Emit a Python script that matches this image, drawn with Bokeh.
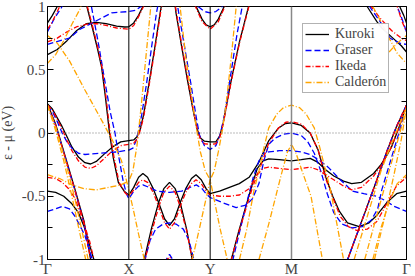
from bokeh.plotting import figure
from bokeh.models import Range1d, FixedTicker, LinearAxis, Span, Legend, LegendItem
from bokeh.embed import file_html
from bokeh.resources import INLINE

# k-path positions: Gamma, X, Y, M, Gamma (|M-Gamma| = sqrt(2))
k_ticks = [0.0, 1.0, 2.0, 3.0, 4.414]
k_labels = ["Γ", "X", "Y", "M", "Γ"]

# Kuroki bands: (k, energy in eV)
kuroki = [
    [(0,0.87),(0.06,0.93),(0.12,1.0),(0.3,1.4),(0.484,1.0),(0.556,0.82),(0.617,0.66),(0.665,0.52),(0.713,0.28),(0.762,0.0),
     (0.81,-0.2),(0.871,-0.39),(0.943,-0.46),(1.0,-0.49),(1.06,-0.43),(1.12,-0.35),(1.173,-0.32),(1.23,-0.35),(1.3,-0.44),(1.366,-0.55),
     (1.44,-0.68),(1.5,-0.73),(1.56,-0.68),(1.632,-0.55),(1.70,-0.44),(1.77,-0.36),(1.826,-0.33),(1.89,-0.37),(1.95,-0.44),(2.0,-0.48),
     (2.116,-0.46),(2.237,-0.43),(2.358,-0.40),(2.479,-0.35),(2.6,-0.23),(2.721,-0.06),(2.842,0.04),(2.926,0.075),(3.0,0.08),(3.12,0.06),
     (3.229,0.0),(3.325,-0.13),(3.422,-0.35),(3.507,-0.5),(3.59,-0.62),(3.688,-0.71),(3.833,-0.74),(3.954,-0.71),(4.051,-0.65),(4.172,-0.55),
     (4.293,-0.48),(4.414,-0.46)],
    [(0,0.62),(0.12,0.66),(0.24,0.73),(0.36,0.81),(0.48,0.865),(0.6,0.875),(0.72,0.865),(0.85,0.845),(0.95,0.838),(1.0,0.84),
     (1.06,0.87),(1.12,0.93),(1.18,1.01),(1.3,1.3),(1.5,1.5),(1.7,1.3),(1.82,1.01),(1.9,0.9),(1.95,0.855),(2.0,0.84),
     (2.05,0.855),(2.1,0.9),(2.18,1.01),(2.4,1.4),(3.0,1.6),(3.8,1.3),(3.93,1.0),(4.05,0.88),(4.11,0.83),(4.23,0.76),
     (4.35,0.69),(4.414,0.64)],
    [(0,0.23),(0.06,0.19),(0.12,0.12),(0.18,0.05),(0.24,-0.03),(0.3,-0.11),(0.38,-0.19),(0.46,-0.235),(0.53,-0.245),(0.6,-0.225),
     (0.7,-0.165),(0.8,-0.11),(0.9,-0.07),(1.0,-0.06),(1.06,-0.055),(1.1,-0.03),(1.14,0.03),(1.18,0.14),(1.25,0.4),(1.32,0.68),
     (1.39,0.97),(1.5,1.35),(1.58,0.95),(1.65,0.68),(1.72,0.42),(1.79,0.18),(1.84,0.03),(1.88,-0.04),(1.93,-0.065),(2.0,-0.07),
     (2.07,-0.07),(2.12,-0.02),(2.16,0.08),(2.26,0.42),(2.36,0.72),(2.48,1.02),(2.7,1.5),(3.5,1.6),(4.2,1.3),(4.33,1.0),
     (4.38,0.93),(4.414,0.87)],
    [(0,0.23),(0.1,0.07),(0.22,-0.19),(0.34,-0.45),(0.45,-0.70),(0.53,-1.0),(0.7,-1.4),(1.0,-1.6),(1.1,-1.3),(1.19,-1.0),
     (1.28,-0.75),(1.366,-0.55),(1.43,-0.44),(1.5,-0.39),(1.57,-0.44),(1.632,-0.55),(1.71,-0.76),(1.78,-1.0),(1.9,-1.4),(2.1,-1.4),
     (2.26,-1.0),(2.35,-0.78),(2.43,-0.6),(2.52,-0.40),(2.58,-0.28),(2.65,-0.22),(2.72,-0.205),(2.85,-0.21),(3.0,-0.22),(3.12,-0.21),
     (3.23,-0.2),(3.32,-0.23),(3.42,-0.29),(3.52,-0.34),(3.64,-0.38),(3.74,-0.40),(3.86,-0.39),(4.01,-0.32),(4.1,-0.25),(4.17,-0.18),
     (4.23,-0.11),(4.33,0.06),(4.414,0.22)],
    [(0,-0.46),(0.1,-0.47),(0.2,-0.5),(0.3,-0.56),(0.38,-0.63),(0.45,-0.74),(0.52,-0.89),(0.57,-1.0),(0.7,-1.3),(1.5,-1.6),
     (2.5,-1.6),(3.0,-1.5),(3.5,-1.3),(3.69,-1.0),(3.81,-0.79),(3.93,-0.58),(4.05,-0.37),(4.17,-0.15),(4.29,0.05),(4.414,0.22)],
]

graser = [
    [(0,0.80),(0.08,0.9),(0.18,1.0),(0.35,1.4),(0.54,1.0),(0.62,0.73),(0.7,0.43),(0.77,0.17),(0.83,0.0),(0.88,-0.2),
     (0.93,-0.38),(0.97,-0.48),(1.0,-0.52),(1.06,-0.46),(1.12,-0.42),(1.173,-0.41),(1.25,-0.43),(1.35,-0.46),(1.5,-0.47),(1.65,-0.46),
     (1.75,-0.43),(1.83,-0.41),(1.9,-0.44),(1.95,-0.48),(2.0,-0.51),(2.15,-0.55),(2.32,-0.59),(2.44,-0.57),(2.52,-0.52),(2.6,-0.4),
     (2.66,-0.22),(2.72,-0.09),(2.8,-0.04),(2.9,-0.01),(3.0,0.0),(3.12,-0.02),(3.2,-0.07),(3.28,-0.16),(3.36,-0.3),(3.44,-0.48),
     (3.52,-0.63),(3.62,-0.72),(3.74,-0.75),(3.87,-0.74),(3.98,-0.69),(4.06,-0.6),(4.11,-0.45),(4.18,-0.3),(4.26,-0.13),(4.33,0.02),
     (4.414,0.22)],
    [(0,0.70),(0.1,0.72),(0.27,0.75),(0.4,0.82),(0.58,0.88),(0.79,0.95),(1.0,0.96),(1.08,0.97),(1.15,1.0),(1.3,1.3),
     (1.5,1.5),(1.7,1.3),(1.85,1.0),(1.93,0.96),(2.0,0.95),(2.07,0.96),(2.15,1.0),(2.4,1.4),(3.0,1.6),(3.8,1.3),
     (3.96,1.0),(4.09,0.88),(4.21,0.75),(4.33,0.71),(4.414,0.70)],
    [(0,0.22),(0.06,0.17),(0.12,0.09),(0.18,0.0),(0.24,-0.07),(0.3,-0.12),(0.38,-0.16),(0.46,-0.17),(0.55,-0.165),(0.65,-0.16),
     (0.75,-0.155),(0.85,-0.15),(0.95,-0.14),(1.0,-0.135),(1.05,-0.12),(1.09,-0.06),(1.12,0.02),(1.16,0.15),(1.22,0.4),(1.28,0.68),
     (1.34,0.95),(1.5,1.5),(1.6,1.0),(1.68,0.7),(1.76,0.4),(1.83,0.12),(1.87,-0.02),(1.93,-0.1),(2.0,-0.13),(2.07,-0.1),
     (2.12,-0.02),(2.17,0.12),(2.25,0.45),(2.33,0.78),(2.4,1.02),(2.7,1.5),(3.5,1.6),(4.2,1.3),(4.3,1.0),(4.36,0.9),
     (4.414,0.8)],
    [(0,0.22),(0.1,0.06),(0.22,-0.2),(0.34,-0.46),(0.45,-0.72),(0.54,-1.0),(0.7,-1.4),(1.0,-1.6),(1.1,-1.3),(1.2,-1.0),
     (1.26,-0.85),(1.33,-0.76),(1.42,-0.72),(1.5,-0.71),(1.58,-0.72),(1.67,-0.76),(1.74,-0.85),(1.8,-1.0),(1.9,-1.4),(2.1,-1.4),
     (2.28,-1.0),(2.37,-0.76),(2.45,-0.55),(2.53,-0.35),(2.6,-0.22),(2.66,-0.16),(2.72,-0.15),(2.85,-0.14),(3.0,-0.14),(3.12,-0.15),
     (3.23,-0.17),(3.33,-0.21),(3.45,-0.27),(3.6,-0.37),(3.75,-0.46),(3.89,-0.48),(4.05,-0.5),(4.17,-0.54),(4.26,-0.58),(4.414,-0.62)],
    [(0,-0.62),(0.1,-0.6),(0.18,-0.58),(0.27,-0.6),(0.34,-0.66),(0.46,-0.81),(0.55,-1.0),(0.7,-1.3),(1.5,-1.6),(2.5,-1.6),
     (3.0,-1.5),(3.5,-1.3),(3.69,-1.0),(3.81,-0.79),(3.93,-0.58),(4.05,-0.37),(4.17,-0.15),(4.29,0.05),(4.414,0.22)],
    [(1.42,-1.1),(1.46,-1.0),(1.5,-0.96),(1.54,-1.0),(1.58,-1.1)],
]

ikeda = [
    [(0,0.82),(0.06,0.88),(0.15,1.0),(0.3,1.4),(0.49,1.0),(0.56,0.83),(0.62,0.67),(0.67,0.52),(0.72,0.28),(0.77,0.0),
     (0.82,-0.2),(0.88,-0.39),(0.95,-0.47),(1.0,-0.5),(1.06,-0.45),(1.12,-0.39),(1.173,-0.37),(1.23,-0.39),(1.3,-0.47),(1.366,-0.58),
     (1.44,-0.71),(1.5,-0.76),(1.56,-0.71),(1.632,-0.58),(1.70,-0.47),(1.77,-0.4),(1.826,-0.37),(1.89,-0.4),(1.95,-0.46),(2.0,-0.49),
     (2.12,-0.5),(2.24,-0.5),(2.36,-0.49),(2.48,-0.44),(2.6,-0.3),(2.72,-0.08),(2.84,0.04),(2.93,0.085),(3.0,0.09),(3.12,0.07),
     (3.23,0.0),(3.33,-0.14),(3.42,-0.36),(3.52,-0.53),(3.6,-0.66),(3.7,-0.74),(3.8,-0.77),(3.93,-0.76),(4.05,-0.70),(4.17,-0.56),
     (4.29,-0.42),(4.414,-0.35)],
    [(0,0.72),(0.12,0.75),(0.24,0.8),(0.36,0.84),(0.48,0.86),(0.6,0.865),(0.72,0.85),(0.85,0.83),(1.0,0.82),(1.06,0.85),
     (1.12,0.92),(1.18,1.0),(1.3,1.3),(1.5,1.5),(1.7,1.3),(1.82,1.0),(1.9,0.88),(2.0,0.82),(2.1,0.88),(2.18,1.0),
     (2.4,1.4),(3.0,1.6),(3.8,1.3),(3.98,1.0),(4.1,0.9),(4.23,0.81),(4.35,0.75),(4.414,0.73)],
    [(0,0.22),(0.06,0.18),(0.12,0.11),(0.18,0.03),(0.24,-0.06),(0.3,-0.14),(0.38,-0.22),(0.46,-0.27),(0.53,-0.28),(0.6,-0.26),
     (0.7,-0.2),(0.8,-0.14),(0.9,-0.1),(1.0,-0.09),(1.06,-0.08),(1.1,-0.05),(1.14,0.02),(1.18,0.12),(1.25,0.38),(1.32,0.66),
     (1.39,0.95),(1.5,1.35),(1.58,0.97),(1.65,0.7),(1.72,0.44),(1.79,0.19),(1.84,0.03),(1.88,-0.05),(1.93,-0.085),(2.0,-0.09),
     (2.07,-0.085),(2.12,-0.03),(2.16,0.07),(2.26,0.41),(2.36,0.71),(2.48,1.01),(2.7,1.5),(3.5,1.6),(4.2,1.3),(4.3,1.0),
     (4.36,0.88),(4.414,0.80)],
    [(0,0.22),(0.1,0.06),(0.22,-0.2),(0.34,-0.46),(0.45,-0.71),(0.53,-1.0),(0.7,-1.4),(1.0,-1.6),(1.1,-1.3),(1.2,-1.0),
     (1.29,-0.76),(1.37,-0.58),(1.43,-0.47),(1.5,-0.42),(1.57,-0.47),(1.63,-0.58),(1.71,-0.77),(1.78,-1.0),(1.9,-1.4),(2.1,-1.4),
     (2.26,-1.0),(2.35,-0.79),(2.43,-0.62),(2.52,-0.43),(2.58,-0.33),(2.65,-0.28),(2.72,-0.27),(2.85,-0.28),(3.0,-0.29),(3.12,-0.28),
     (3.23,-0.27),(3.32,-0.29),(3.42,-0.33),(3.52,-0.37),(3.64,-0.42),(3.74,-0.45),(3.86,-0.43),(4.01,-0.34),(4.1,-0.26),(4.17,-0.18),
     (4.23,-0.11),(4.33,0.06),(4.414,0.22)],
    [(0,-0.35),(0.1,-0.36),(0.18,-0.39),(0.26,-0.44),(0.34,-0.52),(0.43,-0.68),(0.52,-0.86),(0.57,-1.0),(0.7,-1.3),(1.5,-1.6),
     (2.5,-1.6),(3.0,-1.5),(3.5,-1.3),(3.69,-1.0),(3.81,-0.79),(3.93,-0.58),(4.05,-0.37),(4.17,-0.15),(4.29,0.05),(4.414,0.22)],
    [(1.44,-1.1),(1.47,-1.0),(1.5,-0.98),(1.53,-1.0),(1.56,-1.1)],
]

calderon = [
    [(0,0.55),(0.1,0.62),(0.2,0.73),(0.3,0.86),(0.4,0.98),(0.55,1.3)],
    [(0,0.77),(0.12,0.71),(0.27,0.57),(0.46,0.34),(0.58,0.2),(0.7,0.06),(0.8,-0.06),(0.91,-0.22),(1.0,-0.45),(1.06,-0.62),
     (1.12,-0.8),(1.19,-1.0),(1.3,-1.3),(1.5,-1.5),(1.7,-1.3),(1.78,-1.0),(1.87,-0.75),(2.0,-0.37),(2.12,-0.75),(2.21,-1.0),
     (2.35,-1.4)],
    [(0,-0.33),(0.15,-0.36),(0.3,-0.41),(0.45,-0.44),(0.6,-0.45),(0.75,-0.43),(0.9,-0.41),(1.0,-0.38),(1.05,-0.3),(1.1,-0.1),
     (1.15,0.2),(1.21,0.6),(1.27,1.0),(1.4,1.4),(1.5,1.5),(1.63,1.0),(1.7,0.6),(1.77,0.3),(1.82,0.08),(1.88,-0.15),
     (1.94,-0.3),(2.0,-0.37),(2.05,-0.3),(2.1,-0.15),(2.15,0.02),(2.2,0.25),(2.26,0.6),(2.32,1.0),(2.45,1.4)],
    [(0,0.22),(0.1,0.05),(0.22,-0.22),(0.34,-0.53),(0.45,-0.85),(0.5,-1.0),(0.55,-1.15)],
    [(0,0.22),(0.1,0.02),(0.2,-0.22),(0.3,-0.5),(0.4,-0.8),(0.47,-1.0),(0.52,-1.15)],
    [(2.36,-1.0),(2.45,-0.76),(2.54,-0.45),(2.6,-0.3),(2.66,-0.12),(2.72,0.04),(2.82,0.15),(2.9,0.2),(3.0,0.22),(3.1,0.2),
     (3.18,0.15),(3.28,0.04),(3.35,-0.12),(3.42,-0.3),(3.48,-0.45),(3.57,-0.76),(3.64,-1.0)],
    [(2.6,-1.0),(2.72,-0.72),(2.87,-0.34),(2.95,-0.15),(3.0,-0.09),(3.05,-0.15),(3.13,-0.3),(3.24,-0.5),(3.38,-1.0)],
    [(3.77,-1.0),(3.95,-0.62),(4.1,-0.3),(4.25,-0.05),(4.414,0.2)],
    [(3.9,-1.0),(4.05,-0.65),(4.2,-0.3),(4.32,-0.03),(4.414,0.2)],
    [(4.02,-1.0),(4.14,-0.68),(4.26,-0.33),(4.35,-0.05),(4.414,0.2)],
    [(4.0,-1.0),(4.1,-0.75),(4.2,-0.55),(4.3,-0.4),(4.414,-0.33)],
    [(4.0,1.0),(4.1,0.88),(4.2,0.75),(4.3,0.63),(4.414,0.55)],
    [(4.2,0.64),(4.3,0.71),(4.414,0.77)],
]

models = [
    ("Kuroki", kuroki, "black", "solid"),
    ("Graser", graser, "#0000ff", "6 3"),
    ("Ikeda", ikeda, "#ff0000", "5 2 1 2"),
    ("Calderón", calderon, "#ffa500", "6 2 1 2"),
]

FONT = "Liberation Serif"
TICKS = [-1, -0.5, 0, 0.5, 1]
MINOR = [-0.75, -0.25, 0.25, 0.75]

p = figure(width=415, height=283, x_range=Range1d(0, 4.414), y_range=Range1d(-1, 1),
           output_backend="svg", toolbar_location=None,
           min_border_left=45, min_border_right=5, min_border_top=10, min_border_bottom=15)
p.margin = (-4, 0, 0, -4)
p.grid.visible = False
p.outline_line_color = "black"
p.background_fill_color = "white"

p.yaxis.ticker = FixedTicker(ticks=TICKS, minor_ticks=MINOR)
p.yaxis.major_label_overrides = {-1: "-1", -0.5: "-0.5", 0: "0", 0.5: "0.5", 1: "1"}
p.yaxis.major_tick_in = 6
p.yaxis.major_tick_out = 0
p.yaxis.minor_tick_in = 5
p.yaxis.minor_tick_out = 0
p.yaxis.major_label_standoff = 2
p.yaxis.major_label_text_font = FONT
p.yaxis.major_label_text_font_size = "15px"
p.yaxis.axis_label = "ε - μ (eV)"
p.yaxis.axis_label_text_font = FONT
p.yaxis.axis_label_text_font_style = "normal"
p.yaxis.axis_label_text_font_size = "14px"
p.yaxis.axis_label_standoff = 4

p.xaxis.ticker = FixedTicker(ticks=k_ticks)
p.xaxis.major_label_overrides = {t: l for t, l in zip(k_ticks, k_labels)}
p.xaxis.major_tick_in = 0
p.xaxis.major_tick_out = 0
p.xaxis.minor_tick_in = 0
p.xaxis.minor_tick_out = 0
p.xaxis.major_label_standoff = 1
p.xaxis.major_label_text_font = FONT
p.xaxis.major_label_text_font_size = "15px"

right = LinearAxis(ticker=FixedTicker(ticks=TICKS, minor_ticks=MINOR),
                   major_tick_in=6, major_tick_out=0, minor_tick_in=5, minor_tick_out=0,
                   major_label_text_color=None, major_label_standoff=0,
                   major_label_overrides={t: "" for t in TICKS})
p.add_layout(right, "right")

for xv, col, w in [(1.0, "black", 1), (2.0, "black", 1), (3.0, "#888888", 1.5)]:
    p.add_layout(Span(location=xv, dimension="height", line_color=col, line_width=w))
p.add_layout(Span(location=0, dimension="width", line_color="#777777", line_width=1, line_dash="1 2"))

items = []
for name, bands, color, dash in models:
    rs = []
    for band in bands:
        ks = [pt[0] for pt in band]
        es = [pt[1] for pt in band]
        rs.append(p.line(ks, es, line_color=color, line_width=1.3, line_dash=dash))
    items.append(LegendItem(label=name, renderers=[rs[0]]))

legend = Legend(items=items, location=(255, 166), background_fill_color="white",
                border_line_color="#666666", border_line_width=1,
                label_text_font=FONT, label_text_font_size="14px",
                label_height=14, glyph_height=14, glyph_width=24, spacing=0,
                padding=2, margin=0, label_standoff=6)
p.add_layout(legend)

open("out.html", "w").write(file_html(p, INLINE))
